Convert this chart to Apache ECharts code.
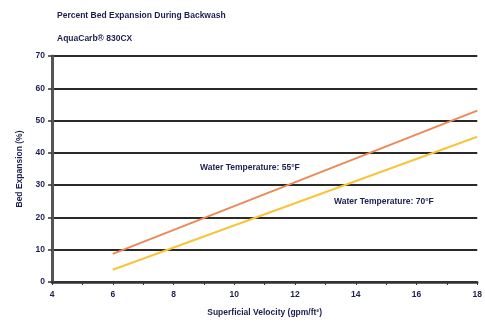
<!DOCTYPE html>
<html>
<head>
<meta charset="utf-8">
<script src="https://cdn.jsdelivr.net/npm/echarts@6/dist/echarts.min.js"></script>
<style>
html,body{margin:0;padding:0;background:#fff;}
#c{width:485px;height:322px;}
</style>
</head>
<body>
<div id="c"></div>
<script>
const velocity = [6, 18];
const temp55 = [8.7, 53.1];
const temp70 = [3.8, 45.0];
const seriesNames = ['Water Temperature: 55°F', 'Water Temperature: 70°F'];
const yTicks = [0, 10, 20, 30, 40, 50, 60, 70];
const xTicks = [4, 6, 8, 10, 12, 14, 16, 18];

const navy = '#1c1f4f';
const font = '"Liberation Sans Narrow", "Liberation Sans", Arial, sans-serif';

const chart = echarts.init(document.getElementById('c'));
chart.setOption({
  animation: false,
  textStyle: { fontFamily: font },
  title: [
    { text: 'Percent Bed Expansion During Backwash', left: 52, top: 6,
      textStyle: { fontSize: 8.5, fontWeight: 'bold', color: navy, fontFamily: font } },
    { text: 'AquaCarb® 830CX', left: 52, top: 29,
      textStyle: { fontSize: 8.5, fontWeight: 'bold', color: navy, fontFamily: font } }
  ],
  grid: { left: 52, right: 3, top: 56, bottom: 40 },
  xAxis: {
    type: 'value', min: xTicks[0], max: xTicks[xTicks.length - 1], interval: 2,
    name: 'Superficial Velocity (gpm/ft²)', nameLocation: 'middle', nameGap: 26,
    nameTextStyle: { fontSize: 8.5, fontWeight: 'bold', color: navy, fontFamily: font },
    axisLine: { lineStyle: { color: '#333', width: 2.5 } },
    axisTick: { show: true, length: 3, lineStyle: { color: '#333', width: 1 } },
    minorTick: { show: true, splitNumber: 2, length: 3, lineStyle: { color: '#333', width: 1 } },
    axisLabel: { fontSize: 8.5, fontWeight: 'bold', color: navy, margin: 8, fontFamily: font },
    splitLine: { show: false }
  },
  yAxis: {
    type: 'value', min: yTicks[0], max: yTicks[yTicks.length - 1], interval: 10,
    name: 'Bed Expansion (%)', nameLocation: 'middle', nameGap: 27, nameRotate: 90,
    nameTextStyle: { fontSize: 8.5, fontWeight: 'bold', color: navy, fontFamily: font },
    axisLine: { show: true, lineStyle: { color: '#555', width: 3 } },
    axisTick: { show: true, length: 4, lineStyle: { color: '#333', width: 1.5 } },
    axisLabel: { fontSize: 8.5, fontWeight: 'bold', color: navy, margin: 7, fontFamily: font },
    splitLine: { show: true, lineStyle: { color: '#2a2a2a', width: 2 } }
  },
  series: [
    {
      name: seriesNames[0], type: 'line', symbol: 'none',
      data: velocity.map((v, i) => [v, temp55[i]]),
      lineStyle: { color: '#ea8a55', width: 2 },
      z: 3
    },
    {
      name: seriesNames[1], type: 'line', symbol: 'none',
      data: velocity.map((v, i) => [v, temp70[i]]),
      lineStyle: { color: '#f8c43a', width: 2 },
      z: 3
    }
  ],
  graphic: [
    { type: 'text', left: 200, top: 163,
      style: { text: seriesNames[0], fontSize: 8.5, fontWeight: 'bold', fill: navy, fontFamily: font } },
    { type: 'text', left: 334, top: 197,
      style: { text: seriesNames[1], fontSize: 8.5, fontWeight: 'bold', fill: navy, fontFamily: font } }
  ]
});
</script>
</body>
</html>
